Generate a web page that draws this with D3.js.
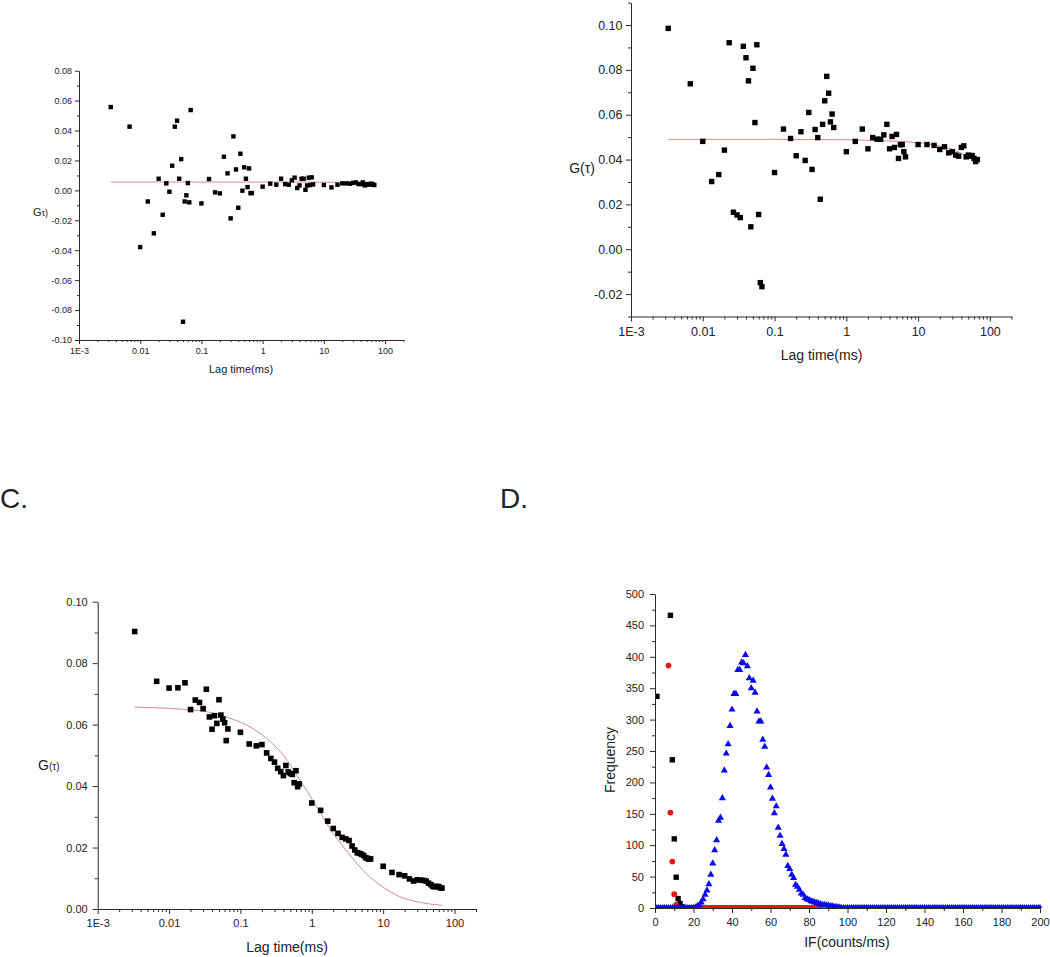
<!DOCTYPE html>
<html><head><meta charset="utf-8">
<script src="https://cdn.jsdelivr.net/npm/d3@7/dist/d3.min.js"></script>
<style>
body{margin:0;background:#fff}
svg{display:block}
text{font-family:"Liberation Sans",Arial,Helvetica,sans-serif;fill:#222}
</style>
</head><body>
<svg id="chart" width="1050" height="957"></svg>
<script>
// ---------------- DATA ----------------
const lagTimes = [
  0.0033,0.0067,0.01,0.0133,0.0167,0.02,0.0233,0.0267,0.03,0.0333,0.0367,0.04,0.0433,0.0467,0.05,0.0533,0.0567,0.06,0.0633,0.0667,
  0.1,0.133,0.167,0.2,0.233,0.267,0.3,0.333,0.367,0.4,0.433,0.467,0.5,0.533,0.567,0.6,0.633,0.667,
  1,1.33,1.67,2,2.33,2.67,3,3.33,3.67,4,4.33,4.67,5,5.33,5.67,6,6.33,6.67,
  10,13.3,16.7,20,23.3,26.7,30,33.3,36.7,40,43.3,46.7,50,53.3,56.7,60,63.3,66.7];

const gA = [
  0.0557,0.0426,-0.0379,-0.0074,-0.0287,0.0078,-0.0163,0.0047,-0.0009,0.0165,0.0426,0.0466,0.0078,0.0209,-0.0878,-0.0074,-0.0033,0.0049,-0.0080,0.0537,
  -0.0087,0.0076,-0.0013,-0.0020,0.0225,0.0114,-0.0187,0.0361,0.0140,-0.0116,0.0245,-0.0002,0.0154,0.0078,0.0022,0.0147,-0.0018,-0.0018,
  0.0025,0.0045,0.0038,0.0078,0.0042,0.0038,0.0067,0.0085,0.0016,0.0033,0.0078,0.0078,0.0004,0.0033,0.0085,0.0036,0.0087,0.0040,
  0.0036,0.0020,0.0038,0.0047,0.0047,0.0045,0.0050,0.0053,0.0043,0.0042,0.0053,0.0033,0.0042,0.0038,0.0042,0.0045,0.0038,0.0036];

const gB = [
  0.0985,0.0738,0.0481,0.0302,0.0333,0.0442,0.0921,0.0165,0.0153,0.0141,0.0905,0.0854,0.0751,0.0100,0.0807,0.0565,0.0912,0.0155,-0.0149,-0.0167,
  0.0342,0.0536,0.0494,0.0417,0.0524,0.0396,0.0610,0.0356,0.0534,0.0498,0.0223,0.0557,0.0662,0.0771,0.0696,0.0568,0.0603,0.0543,
  0.0435,0.0481,0.0536,0.0448,0.0498,0.0491,0.0490,0.0510,0.0557,0.0448,0.0503,0.0454,0.0512,0.0405,0.0466,0.0467,0.0435,0.0412,
  0.0467,0.0467,0.0463,0.0445,0.0457,0.0430,0.0435,0.0420,0.0415,0.0454,0.0461,0.0412,0.0420,0.0415,0.0418,0.0405,0.0391,0.0400];

const gC = [
  0.0903,0.0741,0.0719,0.0720,0.0736,0.0649,0.0680,0.0672,0.0652,0.0715,0.0625,0.0585,0.0629,0.0604,0.0681,0.0631,0.0618,0.0606,0.0548,0.0586,
  0.0575,0.0537,0.0531,0.0535,0.0508,0.0490,0.0478,0.0458,0.0447,0.0434,0.0467,0.0446,0.0441,0.0438,0.0411,0.0450,0.0398,0.0407,
  0.0345,0.0321,0.0286,0.0262,0.0246,0.0233,0.0228,0.0223,0.0205,0.0192,0.0183,0.0181,0.0178,0.0174,0.0167,0.0165,0.0162,0.0163,
  0.0139,0.0119,0.0112,0.0108,0.0098,0.0091,0.0095,0.0094,0.0093,0.0091,0.0084,0.0079,0.0073,0.0073,0.0073,0.0073,0.0069,0.0068];

// fitted curves
const fitAx = [0.0033,1,10,66.7];
const fitAy = [0.0056,0.0056,0.0055,0.0053];
const fitBx = [0.0033,0.1,1,3,10,20,30,45,66.7];
const fitBy = [0.0490,0.0490,0.0488,0.0484,0.0475,0.0460,0.0445,0.0420,0.0392];
const fitCx = [0.0033,0.0272,0.0793,0.136,0.233,0.398,0.681,1.17,2.0,3.42,5.85,10,17.1,29.4,66.7];
const fitCy = [0.0657,0.0645,0.0617,0.0593,0.0555,0.0501,0.0420,0.0333,0.0246,0.0176,0.0114,0.0071,0.0040,0.0024,0.0012];

// log axis ticks
const logMajor = [0.001,0.01,0.1,1,10,100];
const logLabels = ["1E-3","0.01","0.1","1","10","100"];
const logMinor = [0.002,0.003,0.004,0.005,0.006,0.007,0.008,0.009,
  0.02,0.03,0.04,0.05,0.06,0.07,0.08,0.09,
  0.2,0.3,0.4,0.5,0.6,0.7,0.8,0.9,
  2,3,4,5,6,7,8,9,
  20,30,40,50,60,70,80,90,200];

const yMajorA = [-0.10,-0.08,-0.06,-0.04,-0.02,0,0.02,0.04,0.06,0.08];
const yLabelsA = ["-0.10","-0.08","-0.06","-0.04","-0.02","0.00","0.02","0.04","0.06","0.08"];
const yMinorA = [-0.09,-0.07,-0.05,-0.03,-0.01,0.01,0.03,0.05,0.07];
const yMajorB = [-0.02,0,0.02,0.04,0.06,0.08,0.10];
const yLabelsB = ["-0.02","0.00","0.02","0.04","0.06","0.08","0.10"];
const yMinorB = [-0.03,-0.01,0.01,0.03,0.05,0.07,0.09,0.11];
const yMajorC = [0,0.02,0.04,0.06,0.08,0.10];
const yLabelsC = ["0.00","0.02","0.04","0.06","0.08","0.10"];
const yMinorC = [0.01,0.03,0.05,0.07,0.09];

// Panel D: intensity histogram (IF in counts/ms)
const blackIF   = [1,8,9,10,11,12,13,14,15,16];
const blackFreq = [337,466,236,110,49,15,7,2,0,0];
const redStartIF = 7;   // red series: IF = 7, 8, 9, ... 86
const redFreq = [386,152,74,22,5,
  0,0,0,0,0,0,0,0,0,0,0,0,0,0,0,0,0,0,0,0,0,0,0,0,0,
  0,0,0,0,0,0,0,0,0,0,0,0,0,0,0,0,0,0,0,0,0,0,0,0,0,
  0,0,0,0,0,0,0,0,0,0,0,0,0,0,0,0,0,0,0,0,0,0,0,0,0];
const blueFreq = [ // IF = 0, 1, 2, ... 200
  0,0,0,0,0,0,0,0,0,0,0,0,0,0,0,0,0,0,0,0,0,
  1,3,5,9,14,21,28,38,53,71,
  92,108,139,144,175,219,246,261,290,316,
  341,341,379,379,391,390,403,385,366,350,
  362,343,313,297,297,268,257,224,212,192,
  174,151,162,128,115,102,94,85,67,62,
  53,48,37,34,29,23,21,16,14,13,
  11,10,9,8,7,6,5,5,4,4,
  3,3,2,2,1,1,
  0,0,0,0,0,0,0,0,0,0,0,0,0,0,0,0,0,0,0,0,0,0,0,0,0,0,
  0,0,0,0,0,0,0,0,0,0,0,0,0,0,0,0,0,0,0,0,0,0,0,0,0,0,
  0,0,0,0,0,0,0,0,0,0,0,0,0,0,0,0,0,0,0,0,0,0,0,0,0,0,
  0,0,0,0,0,0,0,0,0,0,0,0,0,0,0,0,0,0,0,0,0,0,0,0,0,0];
const dXMajor = [0,20,40,60,80,100,120,140,160,180,200];
const dXMinor = [10,30,50,70,90,110,130,150,170,190];
const dYMajor = [0,50,100,150,200,250,300,350,400,450,500];
const dYMinor = [25,75,125,175,225,275,325,375,425,475];

// ---------------- DRAW ----------------
const svg = d3.select("#chart");
svg.append("rect").attr("width",1050).attr("height",957).attr("fill","#fff");
const AXIS = "#2a2a2a";
const FIT = "#d48c8c";

function styleAxis(g){
  g.selectAll("path.domain").attr("stroke",AXIS).attr("stroke-width",1);
  g.selectAll(".tick line").attr("stroke",AXIS).attr("stroke-width",1);
}

function drawAxes(p){
  const g = svg.append("g");
  // x axis
  const xa = g.append("g").attr("transform",`translate(0,${p.bottom})`)
    .call(d3.axisBottom(p.x).tickValues(p.xMajor).tickFormat((d,i)=>p.xLabels[i])
      .tickSize(p.tMaj).tickSizeOuter(0).tickPadding(p.xPad));
  xa.selectAll("text").attr("font-size",p.tickFont).attr("font-family",null).attr("fill","#222");
  styleAxis(xa);
  const xm = g.append("g").attr("transform",`translate(0,${p.bottom})`)
    .call(d3.axisBottom(p.x).tickValues(p.xMinor).tickFormat("").tickSize(p.tMin).tickSizeOuter(0));
  xm.select("path.domain").remove(); styleAxis(xm);
  // y axis
  const ya = g.append("g").attr("transform",`translate(${p.left},0)`)
    .call(d3.axisLeft(p.y).tickValues(p.yMajor).tickFormat((d,i)=>p.yLabels[i])
      .tickSize(p.tMaj).tickSizeOuter(0).tickPadding(p.yPad));
  ya.selectAll("text").attr("font-size",p.tickFont).attr("font-family",null).attr("fill","#222");
  styleAxis(ya);
  const ym = g.append("g").attr("transform",`translate(${p.left},0)`)
    .call(d3.axisLeft(p.y).tickValues(p.yMinor).tickFormat("").tickSize(p.tMin).tickSizeOuter(0));
  ym.select("path.domain").remove(); styleAxis(ym);
}

function fcsPanel(p, values, fx, fy){
  p.x = d3.scaleLog().domain([0.001,200]).range([p.left,p.right]);
  p.y = d3.scaleLinear().domain(p.yDomain).range([p.bottom,p.top]);
  p.xMajor = logMajor; p.xLabels = logLabels; p.xMinor = logMinor;
  drawAxes(p);
  const line = d3.line().x(d=>p.x(d[0])).y(d=>p.y(d[1])).curve(d3.curveMonotoneX);
  svg.append("path").datum(fx.map((v,i)=>[v,fy[i]]))
    .attr("d",line).attr("fill","none").attr("stroke",FIT).attr("stroke-width",1);
  svg.append("g").selectAll("rect").data(values).join("rect")
    .attr("x",(d,i)=>p.x(lagTimes[i])-p.ms/2).attr("y",d=>p.y(d)-p.ms/2)
    .attr("width",p.ms).attr("height",p.ms).attr("fill","#000");
}

// Panel A
const pA = {left:79,right:403.5,top:70.7,bottom:340,yDomain:[-0.10,0.08],
  yMajor:yMajorA,yLabels:yLabelsA,yMinor:yMinorA,tMaj:4,tMin:2,xPad:4,yPad:3,tickFont:9,ms:4.4};
fcsPanel(pA,gA,fitAx,fitAy);
svg.append("text").attr("x",241).attr("y",373).attr("text-anchor","middle").attr("font-size",11).text("Lag time(ms)");
const ylA = svg.append("text").attr("x",33).attr("y",216).attr("font-size",11);
ylA.append("tspan").text("G");
ylA.append("tspan").attr("font-size",9).text("τ)");

// Panel B
const pB = {left:631,right:1011.5,top:2.6,bottom:316.5,yDomain:[-0.03,0.11],
  yMajor:yMajorB,yLabels:yLabelsB,yMinor:yMinorB,tMaj:5,tMin:3,xPad:5.5,yPad:3.5,tickFont:12.5,ms:5.4};
fcsPanel(pB,gB,fitBx,fitBy);
svg.append("text").attr("x",821.5).attr("y",360).attr("text-anchor","middle").attr("font-size",14).text("Lag time(ms)");
svg.append("text").attr("x",582).attr("y",173).attr("text-anchor","middle").attr("font-size",14).text("G(τ)");

// Panel C
const pC = {left:97.7,right:476,top:601.7,bottom:909,yDomain:[0,0.10],
  yMajor:yMajorC,yLabels:yLabelsC,yMinor:yMinorC,tMaj:5,tMin:3,xPad:5.5,yPad:5,tickFont:11,ms:5.6};
fcsPanel(pC,gC,fitCx,fitCy);
svg.append("text").attr("x",287).attr("y",952).attr("text-anchor","middle").attr("font-size",14).text("Lag time(ms)");
const ylC = svg.append("text").attr("x",38).attr("y",770).attr("font-size",14);
ylC.append("tspan").text("G");
ylC.append("tspan").attr("font-size",10).text("(τ)");

// Panel letters
svg.append("text").attr("x",0).attr("y",508).attr("font-size",28).text("C.");
svg.append("text").attr("x",500).attr("y",508).attr("font-size",28).text("D.");

// Panel D
const pD = {left:655,right:1040,top:594,bottom:908,
  xMajor:dXMajor,xLabels:dXMajor.map(String),xMinor:dXMinor,
  yMajor:dYMajor,yLabels:dYMajor.map(String),yMinor:dYMinor,
  tMaj:5,tMin:3,xPad:5.5,yPad:6,tickFont:11};
pD.x = d3.scaleLinear().domain([0,200]).range([pD.left,pD.right]);
pD.y = d3.scaleLinear().domain([0,500]).range([pD.bottom,pD.top]);
svg.append("clipPath").attr("id","clipD").append("rect")
  .attr("x",pD.left).attr("y",pD.top-20).attr("width",pD.right-pD.left+10).attr("height",pD.bottom-pD.top+20);
const gD = svg.append("g").attr("clip-path","url(#clipD)");
gD.append("g").selectAll("path").data(blackFreq).join("path")
  .attr("d",d3.symbol().type(d3.symbolSquare).size(29))
  .attr("transform",(d,i)=>`translate(${pD.x(blackIF[i])},${pD.y(d)})`).attr("fill","#000");
gD.append("g").selectAll("path").data(redFreq).join("path")
  .attr("d",d3.symbol().type(d3.symbolCircle).size(26))
  .attr("transform",(d,i)=>`translate(${pD.x(redStartIF+i)},${pD.y(d)})`).attr("fill","#ee1111");
gD.append("g").selectAll("path").data(blueFreq).join("path")
  .attr("d",d3.symbol().type(d3.symbolTriangle).size(22))
  .attr("transform",(d,i)=>`translate(${pD.x(i)},${pD.y(d)})`).attr("fill","#0a0aee");
drawAxes(pD);
svg.append("text").attr("x",847).attr("y",947).attr("text-anchor","middle").attr("font-size",14).text("IF(counts/ms)");
svg.append("text").attr("transform","translate(615,760) rotate(-90)").attr("text-anchor","middle").attr("font-size",14).text("Frequency");
</script>
</body></html>
